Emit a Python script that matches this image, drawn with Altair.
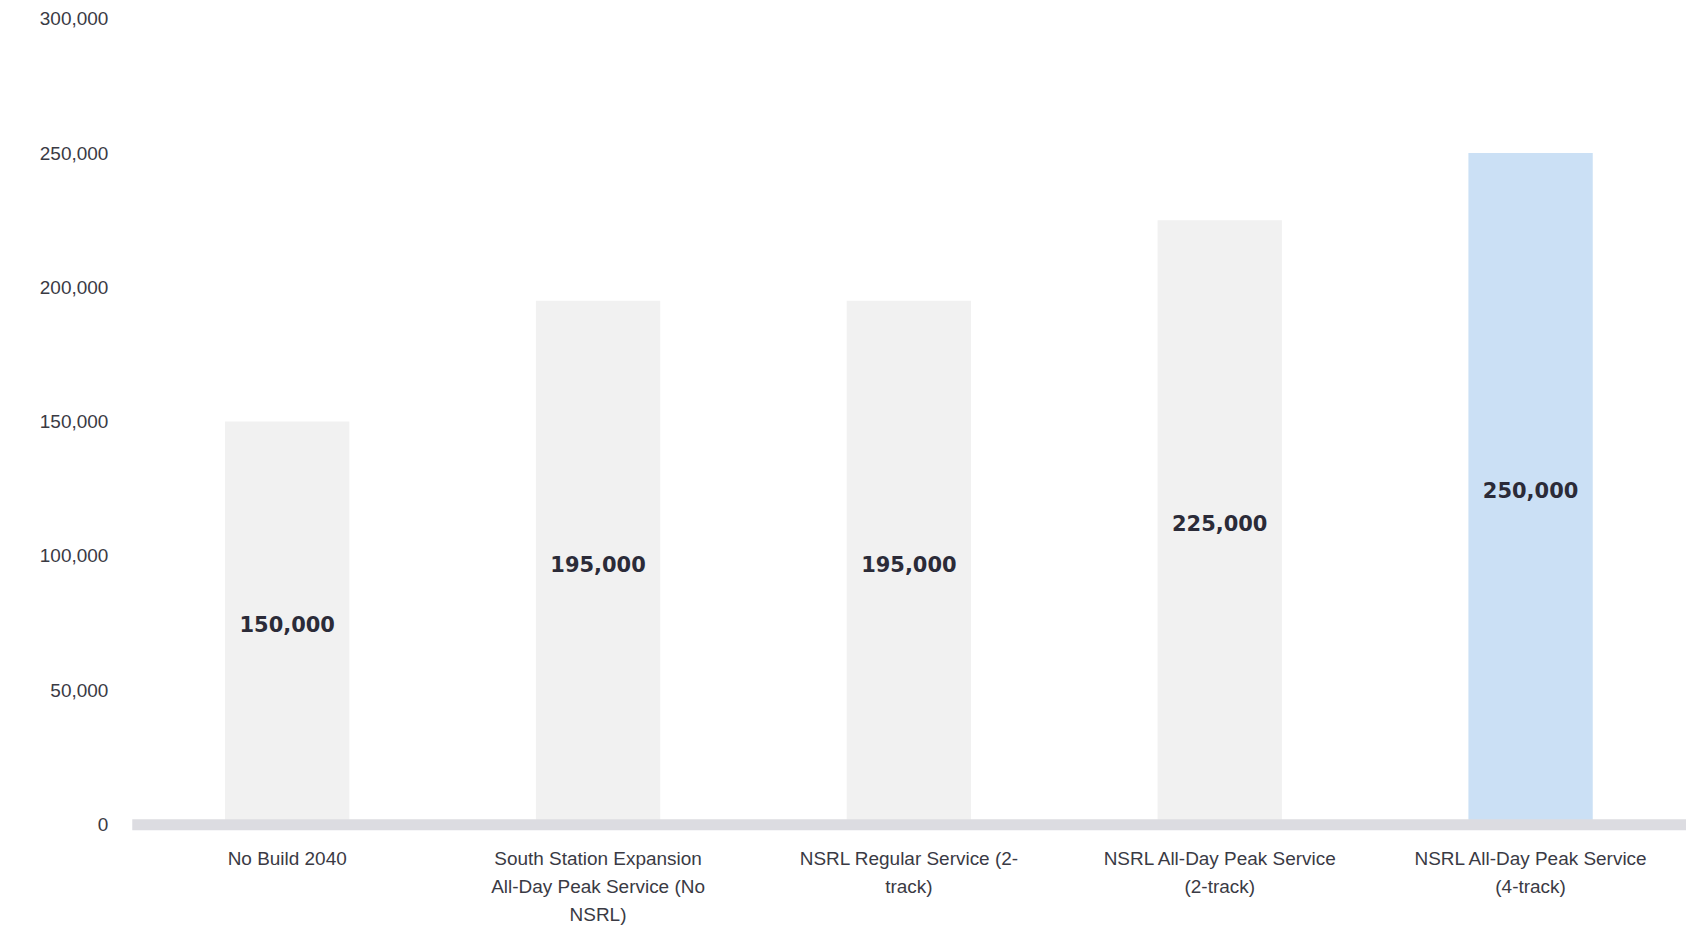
import altair as alt
import pandas as pd

categories = [
    "No Build 2040",
    "South Station Expansion All-Day Peak Service (No NSRL)",
    "NSRL Regular Service (2-track)",
    "NSRL All-Day Peak Service (2-track)",
    "NSRL All-Day Peak Service (4-track)",
]
label_lines = [
    ["No Build 2040"],
    ["South Station Expansion", "All-Day Peak Service (No", "NSRL)"],
    ["NSRL Regular Service (2-", "track)"],
    ["NSRL All-Day Peak Service", "(2-track)"],
    ["NSRL All-Day Peak Service", "(4-track)"],
]
values = [150000, 195000, 195000, 225000, 250000]
highlight = [False, False, False, False, True]
y_ticks = [0, 50000, 100000, 150000, 200000, 250000, 300000]

df = pd.DataFrame({"cat": categories, "value": values, "hl": highlight})
df["mid"] = df["value"] / 2

parts = []
for c, lines in zip(categories, label_lines):
    arr = "[" + ",".join("'" + l.replace("'", "\\'") + "'" for l in lines) + "]"
    parts.append(f"datum.label == '{c}' ? {arr}")
label_expr = " : ".join(parts) + " : datum.label"

LABEL_FONT = "Liberation Sans"

x_axis = alt.Axis(
    title=None,
    labelAngle=0,
    labelExpr=label_expr,
    labelFont=LABEL_FONT,
    labelFontSize=19,
    labelColor="#3a3a44",
    labelLineHeight=28,
    labelPadding=25,
    labelBaseline="top",
    ticks=False,
    domain=True,
    domainColor="#dcdce1",
    domainWidth=11,
    zindex=1,
    labelLimit=400,
)
x_scale = alt.Scale(paddingInner=0.6, paddingOuter=0.3)

y_axis = alt.Axis(
    title=None,
    values=y_ticks,
    labelExpr="format(datum.value, ',')",
    grid=False,
    domain=False,
    ticks=False,
    labelFont=LABEL_FONT,
    labelFontSize=19,
    labelColor="#3a3a44",
    labelPadding=24,
)
y_scale = alt.Scale(domain=[0, 300000], nice=False)

bars = alt.Chart(df).mark_bar().encode(
    x=alt.X("cat:N", sort=categories, scale=x_scale, axis=x_axis),
    y=alt.Y("value:Q", scale=y_scale, axis=y_axis),
    color=alt.Color(
        "hl:N",
        scale=alt.Scale(domain=[False, True], range=["#f1f1f1", "#cbe0f5"]),
        legend=None,
    ),
)

text = alt.Chart(df).mark_text(
    font="DejaVu Sans",
    fontWeight="bold",
    fontSize=21,
    color="#2b2b38",
    baseline="middle",
    align="center",
    dy=3,
).encode(
    x=alt.X("cat:N", sort=categories, scale=x_scale, axis=x_axis),
    y=alt.Y("mid:Q", scale=y_scale, axis=y_axis),
    text=alt.Text("value:Q", format=","),
)

chart = (
    alt.layer(bars, text)
    .properties(
        width=1557,
        height=807,
        background="white",
        padding={"left": 124, "top": 10, "right": 0, "bottom": 100},
        autosize=alt.AutoSizeParams(type="none"),
    )
    .configure_view(stroke=None, strokeWidth=0)
)

chart.save("out.html", embed_options={"renderer": "svg", "actions": False})
